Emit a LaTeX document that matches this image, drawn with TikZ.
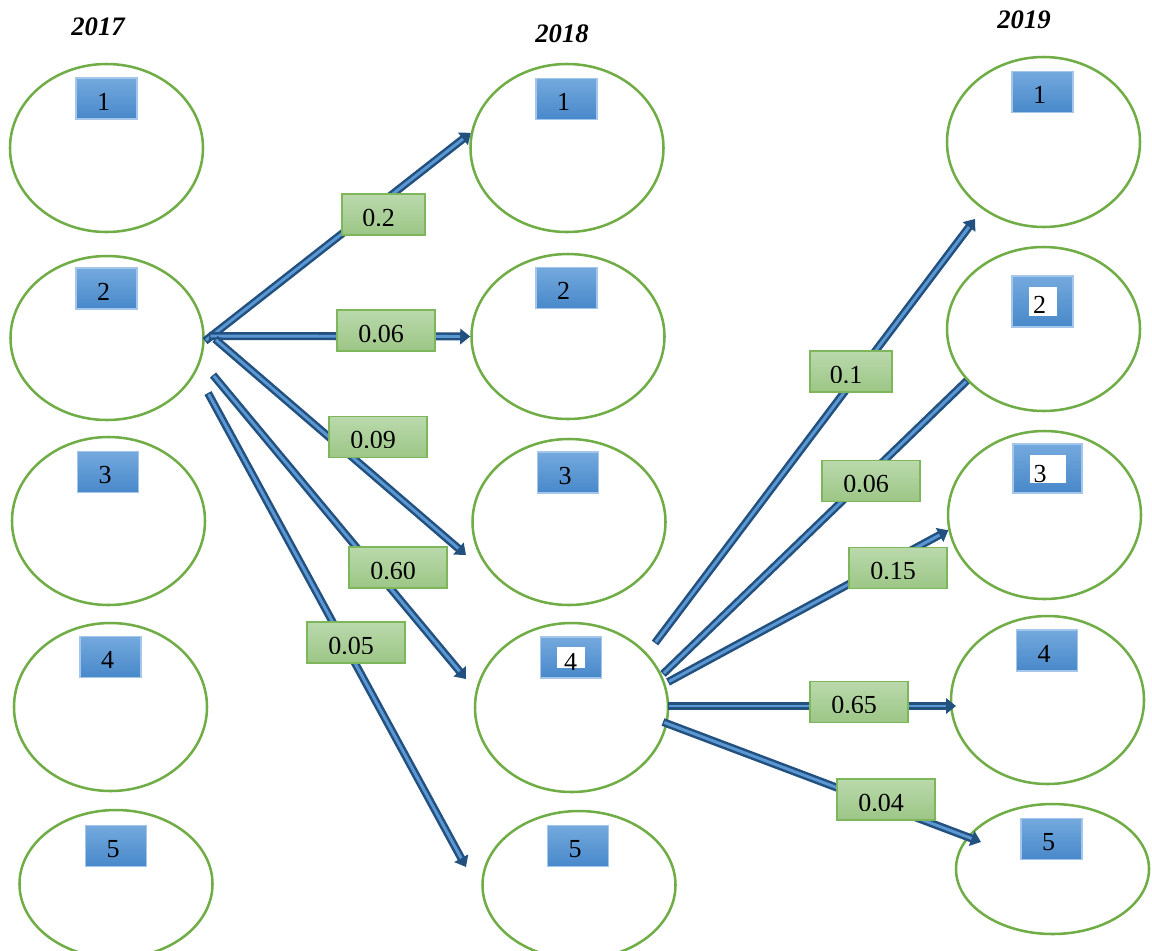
\documentclass[tikz,border=0pt]{standalone}
\usepackage{fontspec}
\setmainfont{Liberation Serif}
\usetikzlibrary{shapes.geometric,arrows.meta}

\definecolor{ringgreen}{HTML}{70AD47}
\definecolor{tagtop}{HTML}{74A9DD}
\definecolor{tagbot}{HTML}{4888CA}
\definecolor{tagedge}{HTML}{A3C6EA}
\definecolor{ratetop}{HTML}{BAD9AC}
\definecolor{ratebot}{HTML}{9CC686}
\definecolor{rateedge}{HTML}{7DB65B}
\definecolor{flowdark}{HTML}{23517F}
\definecolor{flowlight}{HTML}{5B97D3}

\tikzset{
  ring/.style={ellipse, draw=ringgreen, line width=1.9pt, inner sep=0pt,
    minimum width=144.75pt},
  tag/.style={rectangle, draw=tagedge, line width=0.8pt, top color=tagtop,
    bottom color=tagbot, minimum width=45.75pt, minimum height=30.75pt, inner sep=0pt},
  tagnum/.style={font=\fontsize{19.5}{22}\selectfont, inner sep=0pt, anchor=base},
  rate/.style={rectangle, draw=rateedge, line width=1pt, top color=ratetop,
    bottom color=ratebot, minimum height=30.75pt, inner sep=0pt},
  ratenum/.style={font=\fontsize{19.5}{22}\selectfont, inner sep=0pt, anchor=base},
  yearlbl/.style={font=\fontsize{20}{24}\selectfont\bfseries\itshape, inner sep=0pt},
  flowarrow/.style={draw=flowdark, line width=6pt,
    -{Triangle[length=7.5pt,width=11.5pt]},
    postaction={draw=flowlight, line width=2.2pt, -, shorten >=7.5pt, shorten <=1pt}},
  flowline/.style={draw=flowdark, line width=6pt,
    postaction={draw=flowlight, line width=2.2pt, shorten >=1pt, shorten <=1pt}},
}

% transition-rate box: name, x, y, width, text, clip height above the bottom
\newcommand\ratebox[6]{%
  \node[rate, minimum width=#4*0.75pt] (#1) at (#2,#3) {};
  \begin{scope}
    \clip ([shift={(0,-#6)}]#1.south west) rectangle (#1.north east);
    \node[ratenum] (#1n) at ([shift={(-5,11.5)}]#1.center) {#5};
  \end{scope}}

\begin{document}
\begin{tikzpicture}[x=0.75pt, y=-0.75pt]
\useasboundingbox (0,0) rectangle (1152,950);

% years
\node[yearlbl] (y17) at (98,27) {2017};
\node[yearlbl] (y18) at (562,34) {2018};
\node[yearlbl] (y19) at (1024,20) {2019};

% states
\node[ring, minimum height=126pt]   (A1) at (106.5,148) {};
\node[ring, minimum height=123pt]   (A2) at (107,338) {};
\node[ring, minimum height=126pt]   (A3) at (108.5,521) {};
\node[ring, minimum height=126pt]   (A4) at (110.5,707) {};
\node[ring, minimum height=111pt]   (A5) at (116,884) {};

\node[ring, minimum height=126pt]   (B1) at (567,148) {};
\node[ring, minimum height=123.75pt] (B2) at (568,336.5) {};
\node[ring, minimum height=124.5pt] (B3) at (569,522) {};
\node[ring, minimum height=126.75pt] (B4) at (571.5,707.5) {};
\node[ring, minimum height=111pt]   (B5) at (579,885) {};

\node[ring, minimum height=127.5pt] (C1) at (1043.5,142) {};
\node[ring, minimum height=123pt]   (C2) at (1043.5,329) {};
\node[ring, minimum height=126pt]   (C3) at (1044.5,515) {};
\node[ring, minimum height=126pt]   (C4) at (1047.5,700) {};
\node[ring, minimum height=97.5pt]  (C5) at (1052.5,869) {};

% arrow tails and free heads
\coordinate (t1) at (205,341);
\coordinate (t2) at (209,336);
\coordinate (t3) at (215,339);
\coordinate (t4) at (213,375);
\coordinate (t5) at (208,393);
\coordinate (h3) at (466,555);
\coordinate (h4) at (466,679);
\coordinate (h5) at (466,867);

\coordinate (t6) at (655,643);
\coordinate (t7) at (663,674);
\coordinate (t8) at (668,682);
\coordinate (t9) at (668,706);
\coordinate (t10) at (663,722);
\coordinate (h6) at (975,219);
\coordinate (h9) at (956,706);
\coordinate (h10) at (981,842);

% transitions 2017 -> 2018
\draw[flowarrow] (t1) -- (B1.171);
\draw[flowarrow] (t2) -- (B2.west);
\draw[flowarrow] (t3) -- (h3);
\draw[flowarrow] (t4) -- (h4);
\draw[flowarrow] (t5) -- (h5);

% transitions 2018 -> 2019
\draw[flowarrow] (t6) -- (h6);
\draw[flowline]  (t7) -- (C2.214);
\draw[flowarrow] (t8) -- (C3.189);
\draw[flowarrow] (t9) -- (h9);
\draw[flowarrow] (t10) -- (h10);

% rates
\ratebox{r1}{383.5}{214.5}{83}{0.2}{10.5}
\ratebox{r2}{386}{330.5}{98}{0.06}{8}
\ratebox{r3}{378}{437}{98}{0.09}{10.5}
\ratebox{r4}{398}{567.5}{98}{0.60}{10.5}
\ratebox{r5}{356}{642.5}{98}{0.05}{10.5}
\ratebox{r6}{851}{371.5}{82}{0.1}{10.5}
\ratebox{r7}{871}{481}{98}{0.06}{10.5}
\ratebox{r8}{898}{568}{98}{0.15}{10.5}
\ratebox{r9}{859}{702}{98}{0.65}{10.5}
\ratebox{r10}{886}{799.5}{98}{0.04}{10.5}

% state numbers, 2017
\node[tag] (a1) at (106.5,98.5) {};
\node[tagnum] (a1n) at ([shift={(-3,11.5)}]a1.center) {1};
\node[tag] (a2) at (106.5,288.5) {};
\node[tagnum] (a2n) at ([shift={(-3,11.5)}]a2.center) {2};
\node[tag] (a3) at (108,472) {};
\node[tagnum] (a3n) at ([shift={(-3,11.5)}]a3.center) {3};
\node[tag] (a4) at (110.5,657) {};
\node[tagnum] (a4n) at ([shift={(-3,11.5)}]a4.center) {4};
\node[tag] (a5) at (116,846) {};
\node[tagnum] (a5n) at ([shift={(-3,11.5)}]a5.center) {5};

% state numbers, 2018
\node[tag] (b1) at (566.5,99) {};
\node[tagnum] (b1n) at ([shift={(-3,11.5)}]b1.center) {1};
\node[tag] (b2) at (566.5,288) {};
\node[tagnum] (b2n) at ([shift={(-3,11.5)}]b2.center) {2};
\node[tag] (b3) at (568,472.5) {};
\node[tagnum] (b3n) at ([shift={(-3,11.5)}]b3.center) {3};
\node[tag] (b4) at (571,657.5) {};
\fill[white] (557,647) rectangle (585,668);
\node[tagnum] (b4n) at (570.5,670) {4};
\node[tag] (b5) at (578,846) {};
\node[tagnum] (b5n) at ([shift={(-3,11.5)}]b5.center) {5};

% state numbers, 2019
\node[tag] (c1) at (1042.5,92) {};
\node[tagnum] (c1n) at ([shift={(-3,11.5)}]c1.center) {1};
\node[tag, minimum height=38.25pt] (c2) at (1042.5,301.5) {};
\fill[white] (1029,287) rectangle (1057,316);
\node[tagnum] (c2n) at (1039.5,313) {2};
\node[tag, minimum width=51.75pt, minimum height=36.75pt] (c3) at (1047.5,468.5) {};
\fill[white] (1030,455) rectangle (1066,483);
\node[tagnum] (c3n) at (1040,482) {3};
\node[tag] (c4) at (1047,650.5) {};
\node[tagnum] (c4n) at ([shift={(-3,11.5)}]c4.center) {4};
\node[tag] (c5) at (1051.5,839) {};
\node[tagnum] (c5n) at ([shift={(-3,11.5)}]c5.center) {5};
\end{tikzpicture}
\end{document}
